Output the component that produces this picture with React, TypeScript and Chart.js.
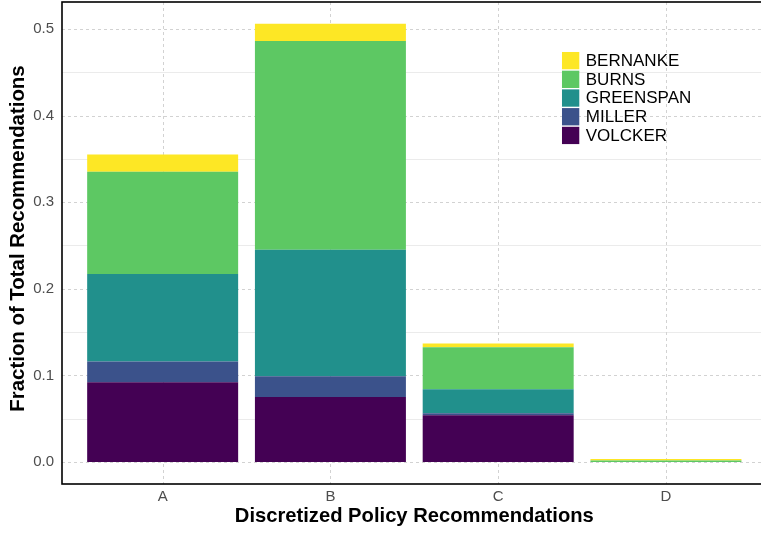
import React, { useEffect, useRef } from "react";
import { Chart, registerables } from "chart.js";

Chart.register(...registerables);

// ---- data ----
const categories = ["A", "B", "C", "D"];
const seriesNames = ["VOLCKER", "MILLER", "GREENSPAN", "BURNS", "BERNANKE"];
const seriesColors = ["#440154", "#3B528B", "#21908C", "#5DC863", "#FDE725"];
const volcker = [0.092, 0.075, 0.054, 0];
const miller = [0.024, 0.024, 0.0025, 0];
const greenspan = [0.101, 0.146, 0.0275, 0];
const burns = [0.118, 0.241, 0.0485, 0.0018];
const bernanke = [0.02, 0.02, 0.0045, 0.0017];
const seriesValues = [volcker, miller, greenspan, burns, bernanke];
const yTicks = [0, 0.1, 0.2, 0.3, 0.4, 0.5];
const yMinorTicks = [0.05, 0.15, 0.25, 0.35, 0.45];
const xTitle = "Discretized Policy Recommendations";
const yTitle = "Fraction of Total Recommendations";

const FONT = "'Liberation Sans', Arial, Helvetica, sans-serif";

const panelPlugin = {
  id: "panelPlugin",
  beforeDatasetsDraw(chart: any) {
    const { ctx, chartArea, scales } = chart;
    const x = scales.x;
    const y = scales.y;
    ctx.save();
    ctx.beginPath();
    ctx.rect(chartArea.left, chartArea.top, chartArea.right - chartArea.left, chartArea.bottom - chartArea.top);
    ctx.clip();
    // minor solid lines
    ctx.strokeStyle = "#EBEBEB";
    ctx.lineWidth = 1.1;
    ctx.setLineDash([]);
    for (const v of yMinorTicks) {
      const py = Math.round(y.getPixelForValue(v)) + 0.5;
      ctx.beginPath();
      ctx.moveTo(chartArea.left, py);
      ctx.lineTo(chartArea.right, py);
      ctx.stroke();
    }
    // major dashed lines
    ctx.strokeStyle = "#D2D2D2";
    ctx.lineWidth = 1;
    ctx.setLineDash([3, 3]);
    for (const v of yTicks) {
      const py = Math.round(y.getPixelForValue(v)) + 0.5;
      ctx.beginPath();
      ctx.moveTo(chartArea.left, py);
      ctx.lineTo(chartArea.right, py);
      ctx.stroke();
    }
    categories.forEach((_, i) => {
      const px = Math.round(x.getPixelForValue(i)) + 0.5;
      ctx.beginPath();
      ctx.moveTo(px, chartArea.top);
      ctx.lineTo(px, chartArea.bottom);
      ctx.stroke();
    });
    ctx.restore();
  },
  afterDatasetsDraw(chart: any) {
    const { ctx, chartArea } = chart;
    ctx.save();
    // panel border
    ctx.strokeStyle = "#000000";
    ctx.lineWidth = 1.6;
    ctx.setLineDash([]);
    ctx.strokeRect(chartArea.left, chartArea.top, chartArea.right - chartArea.left, chartArea.bottom - chartArea.top);
    // y axis title
    ctx.save();
    ctx.translate(18.5, (chartArea.top + chartArea.bottom) / 2 - 4.5);
    ctx.rotate(-Math.PI / 2);
    ctx.font = `bold 20.4px ${FONT}`;
    ctx.fillStyle = "#000000";
    ctx.textAlign = "center";
    ctx.textBaseline = "middle";
    ctx.fillText(yTitle, 0, 0);
    ctx.restore();
    // legend (inside panel)
    const w = chartArea.right - chartArea.left;
    const h = chartArea.bottom - chartArea.top;
    const lx = chartArea.left + 0.7096 * w;
    const ly = chartArea.top + 0.1037 * h;
    const box = 17.3;
    const step = 18.7;
    const ds = chart.data.datasets.slice().reverse();
    ctx.font = `17px ${FONT}`;
    ctx.textBaseline = "middle";
    ctx.textAlign = "left";
    ds.forEach((d: any, i: number) => {
      const top = ly + i * step;
      ctx.fillStyle = d.backgroundColor;
      ctx.fillRect(lx, top, box, box);
      ctx.fillStyle = "#000000";
      ctx.fillText(d.label, lx + box + 6.5, top + box / 2 + 0.5);
    });
    ctx.restore();
  },
};

export default function App() {
  const ref = useRef<HTMLCanvasElement | null>(null);

  useEffect(() => {
    const canvas = ref.current;
    if (!canvas) return;
    const datasets = seriesNames.map((name, s) => ({
      label: name,
      data: categories.map((_, i) => ({ x: i, y: seriesValues[s][i] })),
      backgroundColor: seriesColors[s],
      borderWidth: 0,
      categoryPercentage: 1,
      barPercentage: 0.9,
    }));
    const chart = new Chart(canvas, {
      type: "bar",
      data: { datasets },
      plugins: [panelPlugin],
      options: {
        responsive: false,
        animation: false,
        devicePixelRatio: 1,
        layout: { padding: { top: 2, right: 3.4, left: 0, bottom: 0 } },
        plugins: {
          legend: { display: false },
          tooltip: { enabled: false },
        },
        scales: {
          x: {
            type: "linear",
            stacked: true,
            offset: false,
            min: -0.6,
            max: 3.6,
            grid: { display: false, drawTicks: false, offset: false },
            border: { display: false },
            afterBuildTicks: (scale: any) => {
              scale.ticks = categories.map((_, i) => ({ value: i }));
            },
            afterFit: (scale: any) => {
              scale.height = 49;
              scale.paddingLeft = 0;
              scale.paddingRight = 0;
              scale.paddingTop = 0;
              scale.paddingBottom = 0;
            },
            ticks: {
              autoSkip: false,
              maxRotation: 0,
              padding: 4,
              color: "#4D4D4D",
              font: { family: FONT, size: 15 },
              callback: (v: any) => categories[v as number] ?? "",
            },
            title: {
              display: true,
              text: xTitle,
              color: "#000000",
              font: { family: FONT, size: 20.2, weight: "bold" },
              padding: { top: 0, bottom: 4.5 },
            },
          },
          y: {
            type: "linear",
            stacked: true,
            min: -0.0253,
            max: 0.531,
            grid: { display: false, drawTicks: false },
            border: { display: false },
            afterBuildTicks: (scale: any) => {
              scale.ticks = yTicks.map((v) => ({ value: v }));
            },
            afterFit: (scale: any) => {
              scale.width = 62;
              scale.paddingLeft = 0;
              scale.paddingRight = 0;
              scale.paddingTop = 0;
              scale.paddingBottom = 0;
            },
            ticks: {
              padding: 8,
              color: "#4D4D4D",
              font: { family: FONT, size: 15 },
              callback: (v: any) => Number(v).toFixed(1),
            },
            title: { display: false },
          },
        },
      } as any,
    });
    return () => chart.destroy();
  }, []);

  return (
    <div
      style={{
        position: "fixed",
        left: 0,
        top: 0,
        width: 761,
        height: 533,
        overflow: "hidden",
        background: "#ffffff",
      }}
    >
      <canvas ref={ref} width={770} height={533} style={{ display: "block", width: 770, height: 533 }} />
    </div>
  );
}
